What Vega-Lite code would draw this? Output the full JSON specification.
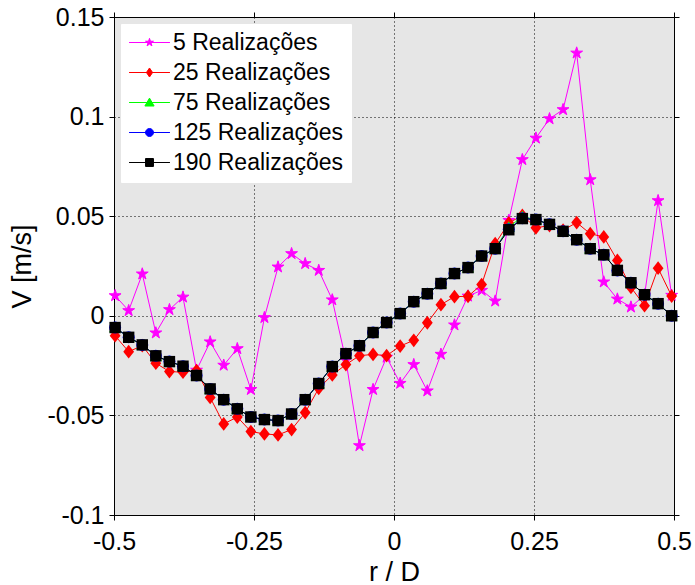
{
  "$schema": "https://vega.github.io/schema/vega-lite/v6.json",
  "width": 560,
  "height": 498,
  "autosize": "none",
  "padding": {"left": 114, "top": 17, "right": 21, "bottom": 70},
  "background": "white",
  "config": {
    "font": "Liberation Sans",
    "view": {"fill": "#e6e6e6", "stroke": "black", "strokeWidth": 1},
    "axis": {
      "labelFont": "Liberation Sans",
      "labelFontSize": 25,
      "labelColor": "black",
      "titleFont": "Liberation Sans",
      "titleFontSize": 27,
      "titleFontWeight": "normal",
      "titleColor": "black",
      "tickColor": "black",
      "tickSize": 5,
      "tickWidth": 1,
      "domain": false,
      "gridColor": "black",
      "gridOpacity": 1,
      "gridDash": [1, 3],
      "gridWidth": 1
    }
  },
  "data": {
    "values": [
      {"r": -0.498, "s": "5", "v": 0.0101},
      {"r": -0.4738, "s": "5", "v": 0.0026},
      {"r": -0.4495, "s": "5", "v": 0.021},
      {"r": -0.4253, "s": "5", "v": -0.0086},
      {"r": -0.401, "s": "5", "v": 0.0031},
      {"r": -0.3768, "s": "5", "v": 0.0094},
      {"r": -0.3526, "s": "5", "v": -0.0273},
      {"r": -0.3283, "s": "5", "v": -0.0131},
      {"r": -0.3041, "s": "5", "v": -0.0248},
      {"r": -0.2798, "s": "5", "v": -0.0165},
      {"r": -0.2556, "s": "5", "v": -0.037},
      {"r": -0.2314, "s": "5", "v": -0.0009},
      {"r": -0.2071, "s": "5", "v": 0.0245},
      {"r": -0.1829, "s": "5", "v": 0.0312},
      {"r": -0.1586, "s": "5", "v": 0.0262},
      {"r": -0.1344, "s": "5", "v": 0.0228},
      {"r": -0.1102, "s": "5", "v": 0.008},
      {"r": -0.0859, "s": "5", "v": -0.0223},
      {"r": -0.0617, "s": "5", "v": -0.0652},
      {"r": -0.0374, "s": "5", "v": -0.037},
      {"r": -0.0132, "s": "5", "v": -0.0208},
      {"r": 0.011, "s": "5", "v": -0.0339},
      {"r": 0.0353, "s": "5", "v": -0.0245},
      {"r": 0.0595, "s": "5", "v": -0.0377},
      {"r": 0.0838, "s": "5", "v": -0.0193},
      {"r": 0.108, "s": "5", "v": -0.0046},
      {"r": 0.1322, "s": "5", "v": 0.0099},
      {"r": 0.1565, "s": "5", "v": 0.0128},
      {"r": 0.1807, "s": "5", "v": 0.0074},
      {"r": 0.205, "s": "5", "v": 0.0479},
      {"r": 0.2292, "s": "5", "v": 0.0784},
      {"r": 0.2534, "s": "5", "v": 0.0892},
      {"r": 0.2777, "s": "5", "v": 0.0989},
      {"r": 0.3019, "s": "5", "v": 0.1035},
      {"r": 0.3262, "s": "5", "v": 0.1319},
      {"r": 0.3504, "s": "5", "v": 0.0683},
      {"r": 0.3746, "s": "5", "v": 0.017},
      {"r": 0.3989, "s": "5", "v": 0.0084},
      {"r": 0.4231, "s": "5", "v": 0.0044},
      {"r": 0.4474, "s": "5", "v": 0.0104},
      {"r": 0.4716, "s": "5", "v": 0.0578},
      {"r": 0.4958, "s": "5", "v": 0.0103},

      {"r": -0.498, "s": "25", "v": -0.01},
      {"r": -0.4738, "s": "25", "v": -0.018},
      {"r": -0.4495, "s": "25", "v": -0.015},
      {"r": -0.4253, "s": "25", "v": -0.0238},
      {"r": -0.401, "s": "25", "v": -0.028},
      {"r": -0.3768, "s": "25", "v": -0.0283},
      {"r": -0.3526, "s": "25", "v": -0.0275},
      {"r": -0.3283, "s": "25", "v": -0.041},
      {"r": -0.3041, "s": "25", "v": -0.0543},
      {"r": -0.2798, "s": "25", "v": -0.0508},
      {"r": -0.2556, "s": "25", "v": -0.0581},
      {"r": -0.2314, "s": "25", "v": -0.0593},
      {"r": -0.2071, "s": "25", "v": -0.0598},
      {"r": -0.1829, "s": "25", "v": -0.0571},
      {"r": -0.1586, "s": "25", "v": -0.0486},
      {"r": -0.1344, "s": "25", "v": -0.0364},
      {"r": -0.1102, "s": "25", "v": -0.0297},
      {"r": -0.0859, "s": "25", "v": -0.0245},
      {"r": -0.0617, "s": "25", "v": -0.02},
      {"r": -0.0374, "s": "25", "v": -0.0194},
      {"r": -0.0132, "s": "25", "v": -0.02},
      {"r": 0.011, "s": "25", "v": -0.0152},
      {"r": 0.0353, "s": "25", "v": -0.0123},
      {"r": 0.0595, "s": "25", "v": -0.0035},
      {"r": 0.0838, "s": "25", "v": 0.0056},
      {"r": 0.108, "s": "25", "v": 0.0096},
      {"r": 0.1322, "s": "25", "v": 0.0098},
      {"r": 0.1565, "s": "25", "v": 0.0157},
      {"r": 0.1807, "s": "25", "v": 0.0362},
      {"r": 0.205, "s": "25", "v": 0.0466},
      {"r": 0.2292, "s": "25", "v": 0.0504},
      {"r": 0.2534, "s": "25", "v": 0.0442},
      {"r": 0.2777, "s": "25", "v": 0.0453},
      {"r": 0.3019, "s": "25", "v": 0.043},
      {"r": 0.3262, "s": "25", "v": 0.0468},
      {"r": 0.3504, "s": "25", "v": 0.0412},
      {"r": 0.3746, "s": "25", "v": 0.0396},
      {"r": 0.3989, "s": "25", "v": 0.0278},
      {"r": 0.4231, "s": "25", "v": 0.0143},
      {"r": 0.4474, "s": "25", "v": 0.0051},
      {"r": 0.4716, "s": "25", "v": 0.0239},
      {"r": 0.4958, "s": "25", "v": 0.0099},

      {"r": -0.498, "s": "75", "v": -0.0059},
      {"r": -0.4738, "s": "75", "v": -0.0108},
      {"r": -0.4495, "s": "75", "v": -0.0146},
      {"r": -0.4253, "s": "75", "v": -0.0201},
      {"r": -0.401, "s": "75", "v": -0.023},
      {"r": -0.3768, "s": "75", "v": -0.0253},
      {"r": -0.3526, "s": "75", "v": -0.03},
      {"r": -0.3283, "s": "75", "v": -0.0367},
      {"r": -0.3041, "s": "75", "v": -0.0421},
      {"r": -0.2798, "s": "75", "v": -0.0467},
      {"r": -0.2556, "s": "75", "v": -0.0508},
      {"r": -0.2314, "s": "75", "v": -0.0521},
      {"r": -0.2071, "s": "75", "v": -0.0526},
      {"r": -0.1829, "s": "75", "v": -0.0493},
      {"r": -0.1586, "s": "75", "v": -0.0421},
      {"r": -0.1344, "s": "75", "v": -0.034},
      {"r": -0.1102, "s": "75", "v": -0.0255},
      {"r": -0.0859, "s": "75", "v": -0.019},
      {"r": -0.0617, "s": "75", "v": -0.015},
      {"r": -0.0374, "s": "75", "v": -0.0084},
      {"r": -0.0132, "s": "75", "v": -0.0034},
      {"r": 0.011, "s": "75", "v": 0.0011},
      {"r": 0.0353, "s": "75", "v": 0.0071},
      {"r": 0.0595, "s": "75", "v": 0.0111},
      {"r": 0.0838, "s": "75", "v": 0.0162},
      {"r": 0.108, "s": "75", "v": 0.0212},
      {"r": 0.1322, "s": "75", "v": 0.0242},
      {"r": 0.1565, "s": "75", "v": 0.03},
      {"r": 0.1807, "s": "75", "v": 0.0337},
      {"r": 0.205, "s": "75", "v": 0.0445},
      {"r": 0.2292, "s": "75", "v": 0.0498},
      {"r": 0.2534, "s": "75", "v": 0.0483},
      {"r": 0.2777, "s": "75", "v": 0.0459},
      {"r": 0.3019, "s": "75", "v": 0.0424},
      {"r": 0.3262, "s": "75", "v": 0.0382},
      {"r": 0.3504, "s": "75", "v": 0.0337},
      {"r": 0.3746, "s": "75", "v": 0.0306},
      {"r": 0.3989, "s": "75", "v": 0.0228},
      {"r": 0.4231, "s": "75", "v": 0.0166},
      {"r": 0.4474, "s": "75", "v": 0.0106},
      {"r": 0.4716, "s": "75", "v": 0.0061},
      {"r": 0.4958, "s": "75", "v": 0.0},

      {"r": -0.498, "s": "125", "v": -0.0059},
      {"r": -0.4738, "s": "125", "v": -0.0108},
      {"r": -0.4495, "s": "125", "v": -0.0146},
      {"r": -0.4253, "s": "125", "v": -0.0201},
      {"r": -0.401, "s": "125", "v": -0.023},
      {"r": -0.3768, "s": "125", "v": -0.0253},
      {"r": -0.3526, "s": "125", "v": -0.03},
      {"r": -0.3283, "s": "125", "v": -0.0367},
      {"r": -0.3041, "s": "125", "v": -0.0421},
      {"r": -0.2798, "s": "125", "v": -0.0467},
      {"r": -0.2556, "s": "125", "v": -0.0508},
      {"r": -0.2314, "s": "125", "v": -0.0521},
      {"r": -0.2071, "s": "125", "v": -0.0526},
      {"r": -0.1829, "s": "125", "v": -0.0493},
      {"r": -0.1586, "s": "125", "v": -0.0421},
      {"r": -0.1344, "s": "125", "v": -0.034},
      {"r": -0.1102, "s": "125", "v": -0.0255},
      {"r": -0.0859, "s": "125", "v": -0.019},
      {"r": -0.0617, "s": "125", "v": -0.015},
      {"r": -0.0374, "s": "125", "v": -0.0084},
      {"r": -0.0132, "s": "125", "v": -0.0034},
      {"r": 0.011, "s": "125", "v": 0.0011},
      {"r": 0.0353, "s": "125", "v": 0.0071},
      {"r": 0.0595, "s": "125", "v": 0.0111},
      {"r": 0.0838, "s": "125", "v": 0.0162},
      {"r": 0.108, "s": "125", "v": 0.0212},
      {"r": 0.1322, "s": "125", "v": 0.0242},
      {"r": 0.1565, "s": "125", "v": 0.03},
      {"r": 0.1807, "s": "125", "v": 0.0337},
      {"r": 0.205, "s": "125", "v": 0.0435},
      {"r": 0.2292, "s": "125", "v": 0.049},
      {"r": 0.2534, "s": "125", "v": 0.0483},
      {"r": 0.2777, "s": "125", "v": 0.0459},
      {"r": 0.3019, "s": "125", "v": 0.0424},
      {"r": 0.3262, "s": "125", "v": 0.0382},
      {"r": 0.3504, "s": "125", "v": 0.0337},
      {"r": 0.3746, "s": "125", "v": 0.0306},
      {"r": 0.3989, "s": "125", "v": 0.0228},
      {"r": 0.4231, "s": "125", "v": 0.0166},
      {"r": 0.4474, "s": "125", "v": 0.0106},
      {"r": 0.4716, "s": "125", "v": 0.0061},
      {"r": 0.4958, "s": "125", "v": 0.0},

      {"r": -0.498, "s": "190", "v": -0.0059},
      {"r": -0.4738, "s": "190", "v": -0.0108},
      {"r": -0.4495, "s": "190", "v": -0.0146},
      {"r": -0.4253, "s": "190", "v": -0.0201},
      {"r": -0.401, "s": "190", "v": -0.023},
      {"r": -0.3768, "s": "190", "v": -0.0253},
      {"r": -0.3526, "s": "190", "v": -0.03},
      {"r": -0.3283, "s": "190", "v": -0.0367},
      {"r": -0.3041, "s": "190", "v": -0.0421},
      {"r": -0.2798, "s": "190", "v": -0.0467},
      {"r": -0.2556, "s": "190", "v": -0.0508},
      {"r": -0.2314, "s": "190", "v": -0.0521},
      {"r": -0.2071, "s": "190", "v": -0.0526},
      {"r": -0.1829, "s": "190", "v": -0.0493},
      {"r": -0.1586, "s": "190", "v": -0.0421},
      {"r": -0.1344, "s": "190", "v": -0.034},
      {"r": -0.1102, "s": "190", "v": -0.0255},
      {"r": -0.0859, "s": "190", "v": -0.019},
      {"r": -0.0617, "s": "190", "v": -0.015},
      {"r": -0.0374, "s": "190", "v": -0.0084},
      {"r": -0.0132, "s": "190", "v": -0.0034},
      {"r": 0.011, "s": "190", "v": 0.0011},
      {"r": 0.0353, "s": "190", "v": 0.0071},
      {"r": 0.0595, "s": "190", "v": 0.0111},
      {"r": 0.0838, "s": "190", "v": 0.0162},
      {"r": 0.108, "s": "190", "v": 0.0212},
      {"r": 0.1322, "s": "190", "v": 0.0242},
      {"r": 0.1565, "s": "190", "v": 0.03},
      {"r": 0.1807, "s": "190", "v": 0.0337},
      {"r": 0.205, "s": "190", "v": 0.0432},
      {"r": 0.2292, "s": "190", "v": 0.0488},
      {"r": 0.2534, "s": "190", "v": 0.0483},
      {"r": 0.2777, "s": "190", "v": 0.0459},
      {"r": 0.3019, "s": "190", "v": 0.0424},
      {"r": 0.3262, "s": "190", "v": 0.0382},
      {"r": 0.3504, "s": "190", "v": 0.0337},
      {"r": 0.3746, "s": "190", "v": 0.0306},
      {"r": 0.3989, "s": "190", "v": 0.0228},
      {"r": 0.4231, "s": "190", "v": 0.0166},
      {"r": 0.4474, "s": "190", "v": 0.0106},
      {"r": 0.4716, "s": "190", "v": 0.0061},
      {"r": 0.4958, "s": "190", "v": 0.0}
    ]
  },
  "layer": [
    {
      "transform": [{"filter": {"field": "s", "equal": "5"}}],
      "mark": {"type": "line", "strokeWidth": 1},
      "encoding": {
        "x": {
          "field": "r", "type": "quantitative",
          "scale": {"domain": [-0.5, 0.5], "nice": false, "zero": false},
          "axis": {
            "orient": "bottom",
            "values": [-0.5, -0.25, 0, 0.25, 0.5],
            "labelExpr": "'' + datum.value",
            "title": "r / D",
            "grid": true,
            "labelPadding": 9,
            "titlePadding": 5,
            "labelFlush": false
          }
        },
        "y": {
          "field": "v", "type": "quantitative",
          "scale": {"domain": [-0.1, 0.15], "nice": false, "zero": false},
          "axis": {
            "orient": "left",
            "values": [-0.1, -0.05, 0, 0.05, 0.1, 0.15],
            "labelExpr": "'' + datum.value",
            "title": "V [m/s]",
            "grid": true,
            "labelPadding": 5,
            "titlePadding": 11,
            "labelFlush": false
          }
        },
        "color": {
          "field": "s", "type": "nominal",
          "scale": {
            "domain": ["5", "25", "75", "125", "190"],
            "range": ["#ff00ff", "#ff0000", "#00ff00", "#0000ff", "#000000"]
          },
          "legend": {
            "title": null,
            "orient": "top-left",
            "offset": 7,
            "padding": 7,
            "fillColor": "white",
            "strokeColor": "white",
            "labelFont": "Liberation Sans",
            "labelFontSize": 23,
            "labelColor": "black",
            "labelOffset": 12,
            "labelLimit": 300,
            "rowPadding": 6,
            "symbolSize": 484,
            "symbolOffset": 10,
            "symbolStrokeWidth": 1,
            "labelExpr": "datum.label + ' Realizações'",
            "encode": {
              "symbols": {
                "update": {
                  "shape": {"signal": "['M-1.86,0H1.86M0,-0.38L0.085,-0.117L0.361,-0.117L0.138,0.045L0.223,0.307L0,0.145L-0.223,0.307L-0.138,0.045L-0.361,-0.117L-0.085,-0.117Z', 'M-1.86,0H1.86M0,-0.41L0.28,0L0,0.41L-0.28,0Z', 'M-1.86,0H1.86M0,-0.4L0.42,0.32L-0.42,0.32Z', 'M-1.86,0H1.86M0.36,0A0.36,0.36,0,1,1,-0.36,0A0.36,0.36,0,1,1,0.36,0Z', 'M-1.86,0H1.86M-0.36,-0.36H0.36V0.36H-0.36Z'][datum.index]"},
                  "fill": {"signal": "scale('color', datum.value)"},
                  "stroke": {"signal": "scale('color', datum.value)"},
                  "strokeWidth": {"value": 1},
                  "opacity": {"value": 1}
                }
              }
            }
          }
        }
      }
    },
    {
      "transform": [{"filter": {"field": "s", "equal": "5"}}],
      "mark": {"type": "point", "filled": true, "opacity": 1, "size": 140, "color": "#ff00ff", "stroke": "#ff00ff", "strokeWidth": 1,
        "shape": "M0,-1.05L0.236,-0.324L1,-0.324L0.381,0.124L0.617,0.85L0,0.401L-0.617,0.85L-0.381,0.124L-1,-0.324L-0.236,-0.324Z"},
      "encoding": {
        "x": {"field": "r", "type": "quantitative", "axis": null},
        "y": {"field": "v", "type": "quantitative", "axis": null}
      }
    },
    {
      "transform": [{"filter": {"field": "s", "equal": "25"}}],
      "mark": {"type": "line", "strokeWidth": 1},
      "encoding": {
        "x": {"field": "r", "type": "quantitative", "axis": null},
        "y": {"field": "v", "type": "quantitative", "axis": null},
        "color": {"field": "s", "type": "nominal"}
      }
    },
    {
      "transform": [{"filter": {"field": "s", "equal": "25"}}],
      "mark": {"type": "point", "filled": true, "opacity": 1, "size": 144, "color": "#ff0000",
        "shape": "M0,-1.15L0.9,0L0,1.15L-0.9,0Z"},
      "encoding": {
        "x": {"field": "r", "type": "quantitative", "axis": null},
        "y": {"field": "v", "type": "quantitative", "axis": null}
      }
    },
    {
      "transform": [{"filter": {"field": "s", "equal": "75"}}],
      "mark": {"type": "line", "strokeWidth": 1},
      "encoding": {
        "x": {"field": "r", "type": "quantitative", "axis": null},
        "y": {"field": "v", "type": "quantitative", "axis": null},
        "color": {"field": "s", "type": "nominal"}
      }
    },
    {
      "transform": [{"filter": {"field": "s", "equal": "75"}}],
      "mark": {"type": "point", "filled": true, "opacity": 1, "size": 144, "color": "#00ff00",
        "shape": "M0,-1L1,0.8L-1,0.8Z"},
      "encoding": {
        "x": {"field": "r", "type": "quantitative", "axis": null},
        "y": {"field": "v", "type": "quantitative", "axis": null}
      }
    },
    {
      "transform": [{"filter": {"field": "s", "equal": "125"}}],
      "mark": {"type": "line", "strokeWidth": 1},
      "encoding": {
        "x": {"field": "r", "type": "quantitative", "axis": null},
        "y": {"field": "v", "type": "quantitative", "axis": null},
        "color": {"field": "s", "type": "nominal"}
      }
    },
    {
      "transform": [{"filter": {"field": "s", "equal": "125"}}],
      "mark": {"type": "point", "filled": true, "opacity": 1, "size": 144, "color": "#0000ff",
        "shape": "circle"},
      "encoding": {
        "x": {"field": "r", "type": "quantitative", "axis": null},
        "y": {"field": "v", "type": "quantitative", "axis": null}
      }
    },
    {
      "transform": [{"filter": {"field": "s", "equal": "190"}}],
      "mark": {"type": "line", "strokeWidth": 1},
      "encoding": {
        "x": {"field": "r", "type": "quantitative", "axis": null},
        "y": {"field": "v", "type": "quantitative", "axis": null},
        "color": {"field": "s", "type": "nominal"}
      }
    },
    {
      "transform": [{"filter": {"field": "s", "equal": "190"}}],
      "mark": {"type": "point", "filled": true, "opacity": 1, "size": 144, "color": "#000000",
        "shape": "M-0.95,-0.95H0.95V0.95H-0.95Z"},
      "encoding": {
        "x": {"field": "r", "type": "quantitative", "axis": null},
        "y": {"field": "v", "type": "quantitative", "axis": null}
      }
    },
    {
      "mark": {"type": "point", "opacity": 0},
      "encoding": {
        "x": {
          "field": "r", "type": "quantitative",
          "axis": {"orient": "top", "values": [-0.5, -0.25, 0, 0.25, 0.5], "labels": false, "title": null, "grid": false}
        },
        "y": {
          "field": "v", "type": "quantitative",
          "axis": {"orient": "right", "values": [-0.1, -0.05, 0, 0.05, 0.1, 0.15], "labels": false, "title": null, "grid": false}
        }
      }
    }
  ],
  "resolve": {"axis": {"x": "independent", "y": "independent"}}
}
